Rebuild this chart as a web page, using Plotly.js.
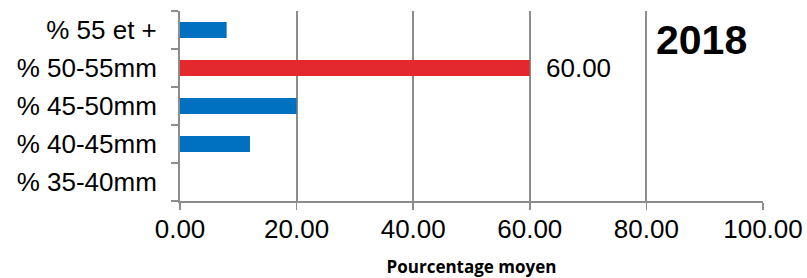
<!DOCTYPE html>
<html><head><meta charset="utf-8">
<script src="https://cdn.plot.ly/plotly-3.0.1.min.js"></script>
<style>html,body{margin:0;padding:0;background:#fff}#chart{width:807px;height:278px}</style>
</head><body><div id="chart"></div>
<script>
const categories = ["% 35-40mm", "% 40-45mm", "% 45-50mm", "% 50-55mm", "% 55 et +"];
const values = [0, 12, 20, 60, 8];
const barLabels = ["", "", "", "60.00", ""];
const barColors = ["#0070C0", "#0070C0", "#0070C0", "#E3292D", "#0070C0"];
const xTickVals = [0, 20, 40, 60, 80, 100];
const xTickText = ["0.00", "20.00", "40.00", "60.00", "80.00", "100.00"];
const yearLabel = "2018";
const xTitle = "Pourcentage moyen";

const FONT = "Liberation Sans, Arial, sans-serif";
const trace = {
  type: "bar", orientation: "h",
  x: values, y: categories,
  marker: {color: barColors},
  hoverinfo: "none"
};
const labelAnnotations = [];
barLabels.forEach((t, i) => {
  if (t) labelAnnotations.push({
    text: t, x: values[i], y: categories[i], xref: "x", yref: "y",
    xanchor: "left", yanchor: "middle", xshift: 14, showarrow: false,
    font: {family: FONT, size: 26, color: "#000"}
  });
});
const layout = {
  width: 807, height: 278,
  margin: {l: 180, r: 44, t: 11, b: 77},
  paper_bgcolor: "#fff", plot_bgcolor: "#fff",
  showlegend: false, bargap: 0.58,
  font: {family: FONT, size: 26, color: "#000"},
  xaxis: {
    range: [0, 100], tickvals: xTickVals, ticktext: xTickText,
    showgrid: true, gridcolor: "#8c8c8c", gridwidth: 2,
    showline: true, linecolor: "#8c8c8c", linewidth: 2,
    ticks: "outside", ticklen: 7, tickcolor: "#8c8c8c", tickwidth: 1.5,
    zeroline: false, ticklabelstandoff: -3,
    tickfont: {size: 26},
    title: {text: xTitle, font: {family: "Open Sans, sans-serif", size: 17, weight: "bold"}, standoff: 18}
  },
  yaxis: {
    type: "category", categoryorder: "array", categoryarray: categories,
    showgrid: false, zeroline: false,
    showline: true, linecolor: "#8c8c8c", linewidth: 2,
    ticks: "outside", ticklen: 7, tickcolor: "#8c8c8c", tickwidth: 1.5,
    tickson: "boundaries", ticklabelstandoff: 16,
    tickfont: {size: 26}
  },
  annotations: labelAnnotations.concat([{
    text: yearLabel, xref: "paper", yref: "paper", x: 0.895, y: 0.847,
    xanchor: "center", yanchor: "middle", showarrow: false,
    font: {family: FONT, size: 41, weight: "bold", color: "#000"}
  }])
};
Plotly.newPlot("chart", [trace], layout, {displayModeBar: false, staticPlot: true});
</script></body></html>
